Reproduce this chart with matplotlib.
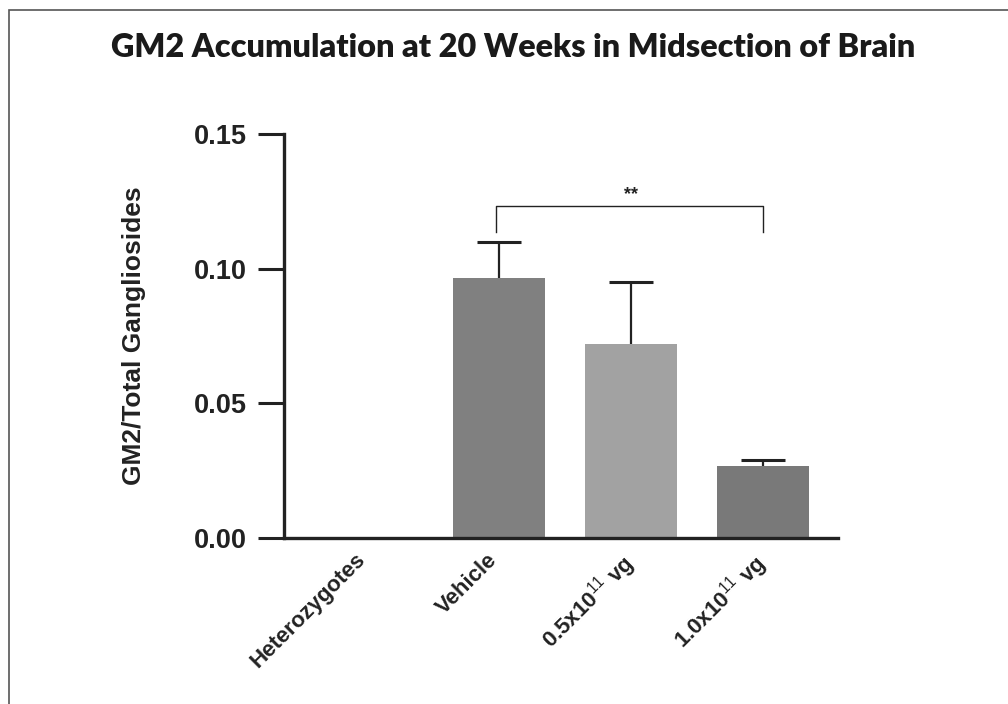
import matplotlib
matplotlib.use("Agg")
import matplotlib.pyplot as plt
import matplotlib.transforms as mtransforms
from matplotlib.patches import Rectangle

plt.rcParams['font.family'] = ['Liberation Sans', 'DejaVu Sans']
plt.rcParams['mathtext.fontset'] = 'custom'
plt.rcParams['mathtext.rm'] = 'Liberation Sans'
plt.rcParams['mathtext.bf'] = 'Liberation Sans:bold'

# data
groups = ['Heterozygotes', 'Vehicle', r'0.5x10$^{11}$ vg', r'1.0x10$^{11}$ vg']
means = [0.0, 0.0965, 0.0720, 0.0268]
sem = [0.0, 0.0135, 0.0231, 0.0020]
colors = ['#808080', '#808080', '#a2a2a2', '#797979']
sig_pair = (1, 3)
sig_label = '**'

fig = plt.figure(figsize=(10.08, 7.04), dpi=100)

# outer frame (only left/top edges visible in the picture)
fig.patches.append(Rectangle((9 / 1008, -0.1), 1.2, 1 - 10 / 704 + 0.1,
                             transform=fig.transFigure, fill=False,
                             edgecolor='#555555', lw=1.2))

fig.text(0.509, 0.933, 'GM2 Accumulation at 20 Weeks in Midsection of Brain',
         ha='center', va='center', fontsize=23.3, fontweight='heavy',
         family=['Lato', 'DejaVu Sans'], color='#1a1a1a')

ax = fig.add_axes([284 / 1008, 1 - 538 / 704, (838 - 284) / 1008, (538 - 134) / 704])
x = list(range(len(groups)))
ax.bar(x, means, width=0.7, color=colors, zorder=2)
eb = ax.errorbar(x[1:], means[1:], yerr=[[0] * 3, sem[1:]], fmt='none',
                 ecolor='#222222', elinewidth=1.6, capsize=16, capthick=2.2, zorder=3)
eb[1][0].set_visible(False)  # only upper caps

ax.set_xlim(-0.629, 3.568)
ax.set_ylim(0, 0.15)
ax.set_yticks([0, 0.05, 0.10, 0.15])
ax.set_yticklabels(['0.00', '0.05', '0.10', '0.15'], fontsize=19.5, fontweight='bold',
                   color='#222222')
ax.tick_params(axis='y', length=19, width=2.2, color='#222222', pad=8)
ax.set_xticks(x)
ax.set_xticklabels(groups, rotation=45, ha='right', va='top', rotation_mode='anchor',
                   fontsize=16, fontweight='bold', color='#222222')
ax.tick_params(axis='x', length=0, pad=8)
shift = mtransforms.ScaledTranslation(-0.12, 0, fig.dpi_scale_trans)
for lab in ax.get_xticklabels():
    lab.set_transform(lab.get_transform() + shift)

ax.spines['top'].set_visible(False)
ax.spines['right'].set_visible(False)
for s in ('left', 'bottom'):
    ax.spines[s].set_linewidth(2.4)
    ax.spines[s].set_color('#222222')

ax.set_ylabel('GM2/Total Gangliosides', fontsize=19, fontweight='bold',
              color='#222222', labelpad=34)

# significance bracket
x0, x1 = sig_pair
yb, yt = 0.1136, 0.1233
ax.plot([x0 - 0.02, x0 - 0.02, x1, x1], [yb, yt, yt, yb], color='#222222',
        lw=1.0, clip_on=False)
ax.text((x0 + x1) / 2, yt + 0.0012, sig_label, ha='center', va='bottom',
        fontsize=13, fontweight='bold', color='#222222')

fig.savefig('out.png', dpi=100)
